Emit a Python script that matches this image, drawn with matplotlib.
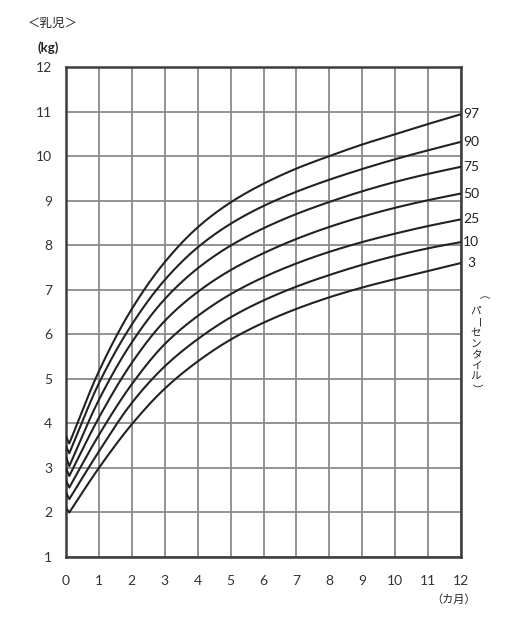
import numpy as np
import matplotlib
matplotlib.use("Agg")
import matplotlib.pyplot as plt

plt.rcParams['font.family'] = ['Noto Sans CJK JP', 'DejaVu Sans']

# ---- data ----
months = [0, 0.1, 1, 2, 3, 4, 5, 6, 7, 8, 9, 10, 11, 12]
percentile_labels = ["97", "90", "75", "50", "25", "10", "3"]
p97 = [3.70, 3.55, 5.17, 6.57, 7.62, 8.40, 8.96, 9.38, 9.72, 10.00, 10.26, 10.49, 10.72, 10.94]
p90 = [3.48, 3.33, 4.90, 6.22, 7.22, 7.95, 8.48, 8.88, 9.20, 9.47, 9.71, 9.93, 10.13, 10.32]
p75 = [3.25, 3.04, 4.53, 5.82, 6.79, 7.48, 7.99, 8.38, 8.70, 8.97, 9.21, 9.42, 9.60, 9.76]
p50 = [3.00, 2.82, 4.13, 5.36, 6.30, 6.95, 7.44, 7.82, 8.14, 8.41, 8.64, 8.84, 9.01, 9.16]
p25 = [2.72, 2.56, 3.74, 4.88, 5.78, 6.41, 6.90, 7.28, 7.59, 7.85, 8.07, 8.26, 8.43, 8.58]
p10 = [2.45, 2.30, 3.37, 4.46, 5.28, 5.89, 6.38, 6.76, 7.07, 7.33, 7.56, 7.76, 7.93, 8.07]
p3 = [2.10, 2.00, 3.00, 3.98, 4.78, 5.39, 5.88, 6.26, 6.57, 6.83, 7.05, 7.24, 7.42, 7.60]
series = [p97, p90, p75, p50, p25, p10, p3]
x_ticks = list(range(0, 13))
y_ticks = list(range(1, 13))


def monotone_curve(x, y, n=400):
    """Smooth monotone cubic (Fritsch-Carlson) drawing path through the points."""
    x = np.asarray(x, float)
    y = np.asarray(y, float)
    h = np.diff(x)
    d = np.diff(y) / h
    m = np.zeros_like(y)
    m[0], m[-1] = d[0], d[-1]
    for k in range(1, len(x) - 1):
        if d[k - 1] * d[k] <= 0:
            m[k] = 0
        else:
            w1 = 2 * h[k] + h[k - 1]
            w2 = h[k] + 2 * h[k - 1]
            m[k] = (w1 + w2) / (w1 / d[k - 1] + w2 / d[k])
    xs = np.linspace(x[0], x[-1], n)
    idx = np.clip(np.searchsorted(x, xs) - 1, 0, len(x) - 2)
    t = (xs - x[idx]) / h[idx]
    h00 = 2 * t**3 - 3 * t**2 + 1
    h10 = t**3 - 2 * t**2 + t
    h01 = -2 * t**3 + 3 * t**2
    h11 = t**3 - t**2
    ys = h00 * y[idx] + h10 * h[idx] * m[idx] + h01 * y[idx + 1] + h11 * h[idx] * m[idx + 1]
    return xs, ys


W, H = 519, 618
fig = plt.figure(figsize=(W / 100, H / 100), dpi=100)
ax = fig.add_axes([66 / W, 1 - 557 / H, (461 - 66) / W, (557 - 67) / H])

ax.set_xlim(0, 12)
ax.set_ylim(1, 12)
ax.set_xticks(x_ticks)
ax.set_yticks(y_ticks)
ax.set_xticklabels([str(v) for v in x_ticks], family='Lato', fontsize=10, color='#333333')
ax.set_yticklabels([str(v) for v in y_ticks], family='Lato', fontsize=10, color='#333333')
ax.tick_params(axis='both', length=0)
ax.tick_params(axis='x', pad=13)
ax.tick_params(axis='y', pad=10)
ax.grid(True, color='#8a8a8a', linewidth=1.3)
ax.set_axisbelow(True)
for s in ax.spines.values():
    s.set_color('#3c3c3c')
    s.set_linewidth(1.8)

for vals, lab in zip(series, percentile_labels):
    xs, ys = monotone_curve(months[1:], vals[1:])
    xs = np.concatenate([[months[0]], xs])
    ys = np.concatenate([[vals[0]], ys])
    ax.plot(xs, ys, color='#222222', linewidth=1.5, solid_capstyle='round', zorder=3)
    ax.annotate(lab, xy=(12, vals[-1]), xytext=(10, 0), textcoords='offset pixels',
                ha='center', va='center', family='Lato', fontsize=10, color='#222222',
                annotation_clip=False)

# titles / units
fig.text(28 / W, 1 - 23 / H, "＜乳児＞", fontsize=9, ha='left', va='center', color='#222222')
fig.text(37 / W, 1 - 48 / H, "(kg)", fontsize=9.5, ha='left', va='center', color='#222222',
         family='Lato', fontweight='bold')
fig.text(454 / W, 1 - 600 / H, "（カ月）", fontsize=8, ha='center', va='center', color='#222222')

# vertical caption (tategaki)
chars = ["（", "パ", "ー", "セ", "ン", "タ", "イ", "ル", "）"]
y0 = 300
step = 11.0
for i, ch in enumerate(chars):
    rot = -90 if ch in ("（", "）", "ー") else 0
    fig.text(476 / W, 1 - (y0 + i * step) / H, ch, fontsize=7.6, ha='center', va='center',
             rotation=rot, color='#222222')

fig.savefig("out.png", dpi=100)
